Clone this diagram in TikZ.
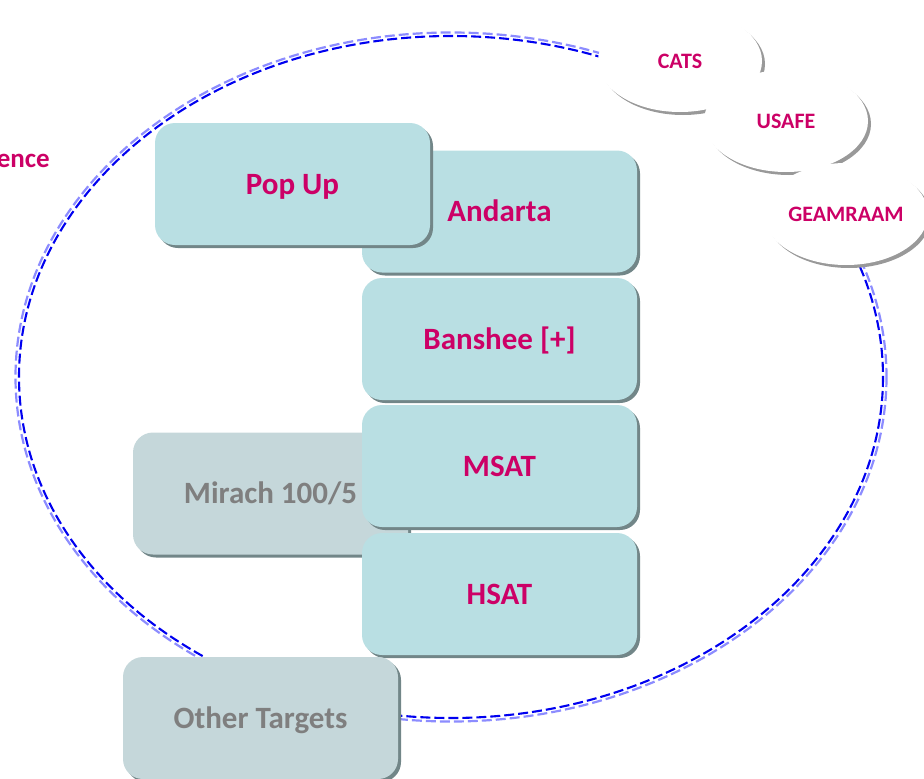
\documentclass[tikz,border=0pt]{standalone}
\usepackage{fontspec}
\setmainfont{Carlito}
\usetikzlibrary{shadows,shapes.geometric}
\definecolor{boxfill}{HTML}{B9DFE3}
\definecolor{grayfill}{HTML}{C5D7DA}
\definecolor{magtext}{HTML}{CC0066}
\definecolor{graytext}{HTML}{7F7F7F}
\definecolor{shadowc}{HTML}{728688}
\definecolor{ringdark}{HTML}{0000F0}
\definecolor{ringlight}{HTML}{8C8CFF}
\begin{document}
\begin{tikzpicture}[x=1pt,y=-1pt,
  tbox/.style={rounded corners=20pt, fill=boxfill, minimum width=275pt, minimum height=122pt,
    inner sep=0pt, text=magtext, font=\fontsize{31}{36}\selectfont\bfseries,
    text height=20pt, text depth=0pt,
    drop shadow={shadow xshift=3pt, shadow yshift=-3pt, fill=shadowc, opacity=1}},
  gbox/.style={tbox, fill=grayfill, text=graytext},
  oval/.style={ellipse, fill=white, minimum width=164pt, minimum height=102pt, inner sep=0pt,
    text=magtext, font=\fontsize{22}{26}\selectfont\bfseries,
    text height=14pt, text depth=0pt,
    drop shadow={shadow xshift=3pt, shadow yshift=-3pt, fill=black!40, opacity=1}},
  ringa/.style={draw=ringlight, line width=2.2pt, dash pattern=on 10pt off 4pt},
  ringb/.style={draw=ringdark, line width=2.1pt, dash pattern=on 10pt off 4pt},
]
\useasboundingbox (0,0) rectangle (924,779);
% big dashed ring
\draw[ringa] (451,377) ellipse [x radius=435.5, y radius=344.5];
\draw[ringb] (451,377) ellipse [x radius=432, y radius=341];
% partial label at left edge
\node[anchor=base east, inner sep=0pt, text=magtext, font=\fontsize{27}{31}\selectfont\bfseries] (infl) at (50,167) {Influence};
% boxes
\node[gbox] (mirach) at (270.5,493.5) {Mirach 100/5\hspace*{0pt}};
\node[tbox] (andarta) at (499.5,211.5) {Andarta};
\node[tbox] (banshee) at (499.5,339) {Banshee [+]};
\node[tbox] (msat) at (499.5,466) {MSAT};
\node[tbox] (hsat) at (499.5,594) {HSAT};
\node[tbox] (popup) at (292.5,184) {Pop Up};
\node[gbox] (other) at (260.5,718) {Other Targets};
% ovals
\node[oval] (cats) at (680,61) {CATS};
\node[oval] (usafe) at (786,121) {USAFE};
\node[oval] (geam) at (846,214) {GEAMRAAM};
\end{tikzpicture}
\end{document}
